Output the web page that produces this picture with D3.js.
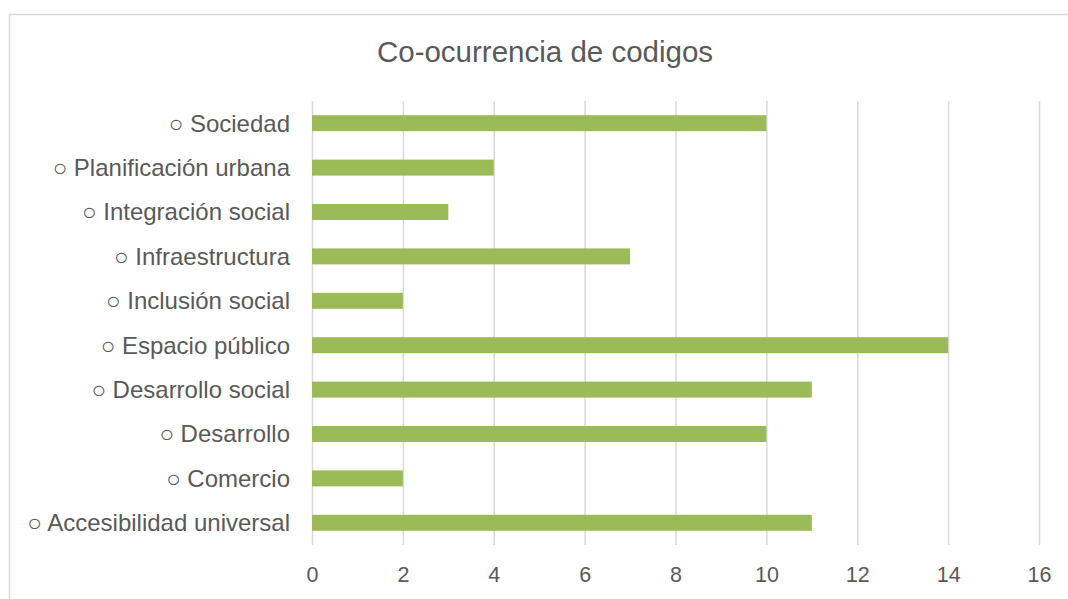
<!DOCTYPE html>
<html>
<head>
<meta charset="utf-8">
<script src="https://cdn.jsdelivr.net/npm/d3@7"></script>
<style>
  body { margin: 0; background: #fff; }
  svg { font-family: "Liberation Sans", Arial, sans-serif; }
</style>
</head>
<body>
<div id="chart"></div>
<script>
var categories = ["Sociedad", "Planificación urbana", "Integración social", "Infraestructura",
                  "Inclusión social", "Espacio público", "Desarrollo social", "Desarrollo",
                  "Comercio", "Accesibilidad universal"];
var values = [10, 4, 3, 7, 2, 14, 11, 10, 2, 11];
var tickValues = [0, 2, 4, 6, 8, 10, 12, 14, 16];

var chartWidth = 1068, chartHeight = 599;
var margin = {top: 101, right: 29, bottom: 54, left: 312},
    width = chartWidth - margin.left - margin.right,
    height = chartHeight - margin.top - margin.bottom;

var svg = d3.select("#chart").append("svg")
    .attr("width", chartWidth)
    .attr("height", chartHeight);

// chart frame
svg.append("rect")
    .attr("x", 9.5).attr("y", 14.5)
    .attr("width", 1070).attr("height", 600)
    .attr("fill", "none")
    .attr("stroke", "#d9d9d9")
    .attr("stroke-width", 1.5);

svg.append("text")
    .attr("x", 545)
    .attr("y", 62)
    .attr("text-anchor", "middle")
    .attr("font-size", "29.5px")
    .attr("fill", "#595959")
    .text("Co-ocurrencia de codigos");

var g = svg.append("g")
    .attr("transform", "translate(" + margin.left + "," + margin.top + ")");

var x = d3.scaleLinear().domain([0, 16]).range([0, width]);
var y = d3.scaleBand().domain(categories).range([0, height])
    .paddingInner(0.64).paddingOuter(0.32);

// gridlines
g.append("g")
    .attr("class", "grid")
    .call(d3.axisBottom(x).tickValues(tickValues).tickSize(height).tickFormat(""))
    .call(function(s) {
      s.select(".domain").remove();
      s.selectAll("line").attr("stroke", "#d9d9d9").attr("stroke-width", 1.5);
    });

g.selectAll(".bar")
    .data(values)
    .enter().append("rect")
      .attr("class", "bar")
      .attr("x", x(0))
      .attr("y", function(d, i) { return y(categories[i]); })
      .attr("width", function(d) { return x(d) - x(0); })
      .attr("height", y.bandwidth())
      .attr("fill", "#9bbb59");

// x tick labels
g.append("g")
    .attr("transform", "translate(0," + height + ")")
    .call(d3.axisBottom(x).tickValues(tickValues).tickSize(0).tickPadding(22))
    .call(function(s) {
      s.select(".domain").remove();
      s.selectAll("text")
        .attr("font-size", "21.5px")
        .attr("font-family", "Liberation Sans, Arial, sans-serif")
        .attr("fill", "#595959");
    });

// category labels
g.selectAll(".cat")
    .data(categories)
    .enter().append("text")
      .attr("class", "cat")
      .attr("x", -22)
      .attr("y", function(d) { return y(d) + y.bandwidth() / 2; })
      .attr("dy", "0.35em")
      .attr("text-anchor", "end")
      .attr("font-size", "24px")
      .attr("fill", "#595959")
      .text(function(d) { return "○ " + d; });
</script>
</body>
</html>
